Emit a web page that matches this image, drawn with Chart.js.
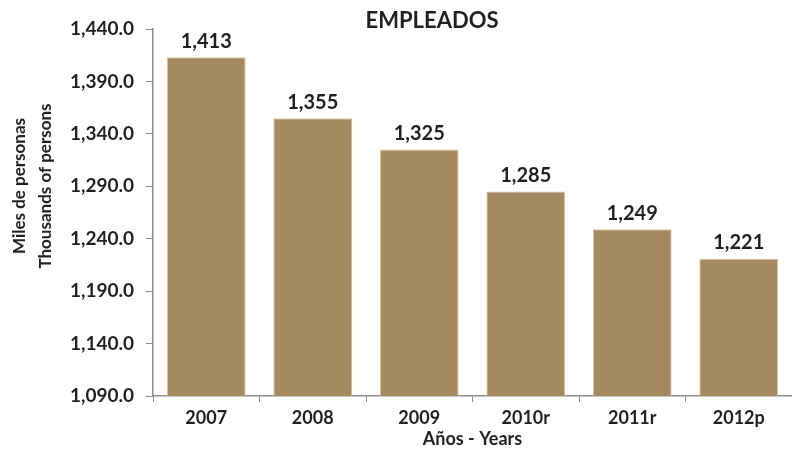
<!DOCTYPE html>
<html lang="es">
<head>
<meta charset="utf-8"/>
<title>EMPLEADOS</title>
<script src="https://cdn.jsdelivr.net/npm/chart.js@4.4.3/dist/chart.umd.min.js"></script>
<style>
  html, body { margin: 0; padding: 0; background: #fff; }
  #wrap { width: 792px; height: 450px; position: relative; }
</style>
</head>
<body>
<div id="wrap"><canvas id="c"></canvas></div>
<script>
// Data
const years = ['2007', '2008', '2009', '2010r', '2011r', '2012p'];
const employees = [1413, 1355, 1325, 1285, 1249, 1221];
const yMin = 1090;
const yMax = 1440;
const yStep = 50;

const FONT = 'Lato, "Open Sans", sans-serif';
const INK = '#231f20';
const AXIS = '#8c8c8c';

const fmtTick = (v) => v.toLocaleString('en-US', { minimumFractionDigits: 1, maximumFractionDigits: 1 });
const fmtVal = (v) => v.toLocaleString('en-US');

// value labels above each bar, chart title and the two-line y title
const labelsPlugin = {
  id: 'labels',
  afterDatasetsDraw(chart) {
    const { ctx } = chart;
    const meta = chart.getDatasetMeta(0);
    ctx.save();
    ctx.fillStyle = INK;
    ctx.font = 'bold 20px ' + FONT;
    ctx.textAlign = 'center';
    ctx.textBaseline = 'bottom';
    meta.data.forEach((bar, i) => {
      ctx.fillText(fmtVal(employees[i]), bar.x, bar.y - 6);
    });
    ctx.font = 'bold 22px ' + FONT;
    ctx.textBaseline = 'middle';
    ctx.fillText('EMPLEADOS', 432, 21);

    ctx.font = 'bold 17px ' + FONT;
    ctx.translate(0, 186);
    ctx.rotate(-Math.PI / 2);
    ctx.fillText('Miles de personas', 0, 20);
    ctx.fillText('Thousands of persons', 0, 46);
    ctx.restore();
  }
};

new Chart(document.getElementById('c'), {
  type: 'bar',
  data: {
    labels: years,
    datasets: [{
      data: employees,
      backgroundColor: '#a68a5f',
      borderColor: '#d3c4a4',
      borderWidth: 1,
      barPercentage: 0.74,
      categoryPercentage: 1
    }]
  },
  options: {
    responsive: true,
    maintainAspectRatio: false,
    animation: false,
    layout: { padding: { top: 29, right: 0, left: 0, bottom: 0 } },
    plugins: { legend: { display: false }, tooltip: { enabled: false }, title: { display: false } },
    scales: {
      x: {
        grid: { drawOnChartArea: false, color: AXIS, tickLength: 6, offset: true },
        border: { color: AXIS, width: 1.5 },
        ticks: { color: INK, font: { family: FONT, size: 18, weight: 'bold' }, padding: 5 },
        title: { display: true, text: 'Años - Years', color: INK, font: { family: FONT, size: 18, weight: 'bold' }, padding: { top: -6, bottom: 0 } },
        afterFit: (s) => { s.height = 54; }
      },
      y: {
        min: yMin,
        max: yMax,
        grid: { drawOnChartArea: false, color: AXIS, tickLength: 7 },
        border: { color: AXIS, width: 1.5 },
        ticks: { stepSize: yStep, color: INK, font: { family: FONT, size: 19, weight: 'bold' }, padding: 12, callback: fmtTick },
        afterFit: (s) => { s.width = 153; }
      }
    }
  },
  plugins: [labelsPlugin]
});
</script>
</body>
</html>
